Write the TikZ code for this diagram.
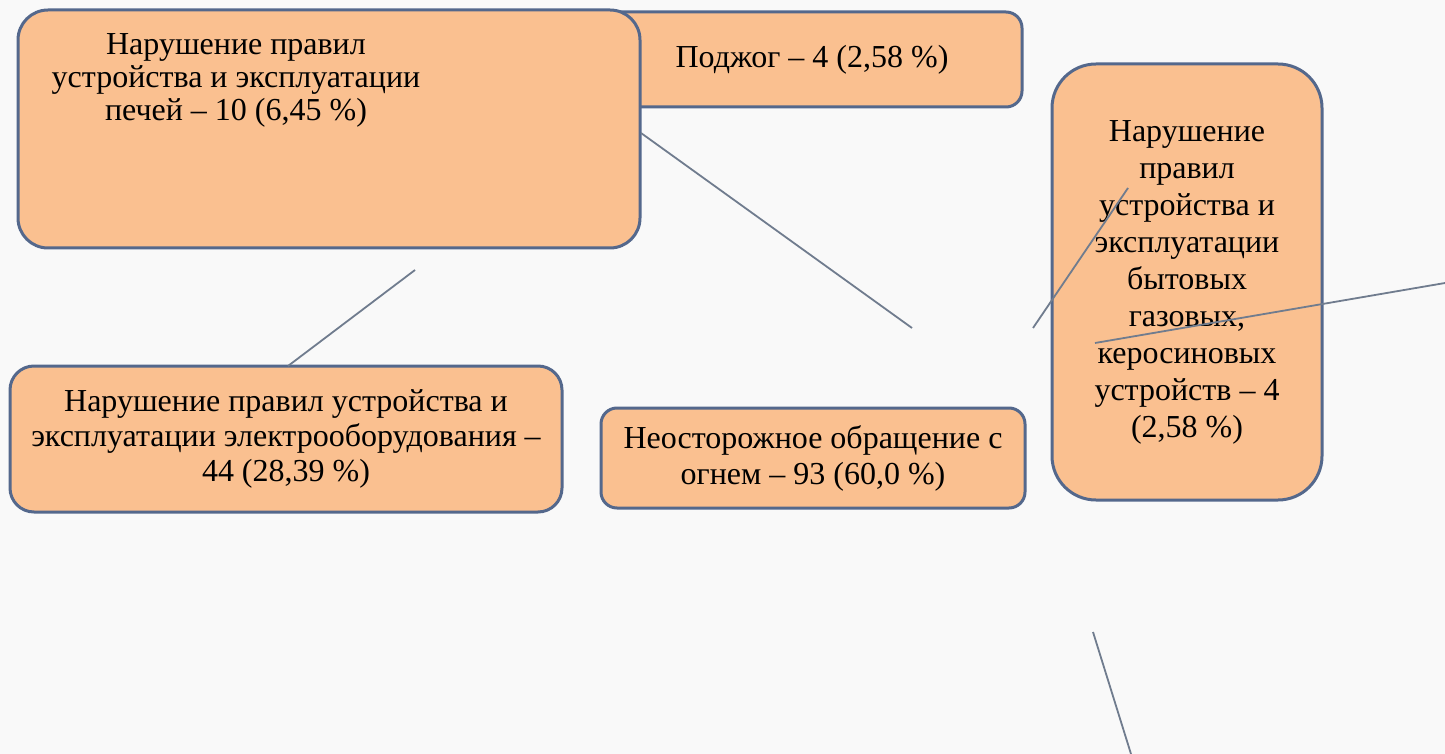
\documentclass[tikz,border=0pt]{standalone}
\usepackage{fontspec}
\setmainfont{Liberation Serif}
\usepackage{tikz}
\definecolor{peach}{RGB}{250,192,144}
\definecolor{slateblue}{RGB}{84,104,140}
\definecolor{linegray}{RGB}{112,124,142}
\definecolor{paper}{RGB}{249,249,249}

\begin{document}
\begin{tikzpicture}[x=0.5pt,y=-0.5pt,
    cause/.style={draw=slateblue,line width=1.5pt,fill=peach,rounded corners=#1,
        inner sep=0pt,font=\fontsize{16}{18}\selectfont,align=center},
    cause/.default=12pt,
    words/.style={inner sep=0pt,font=\fontsize{16}{16.5}\selectfont,align=center},
    link/.style={draw=linegray,line width=0.9pt}
]
\useasboundingbox (0,0) rectangle (1445,754);
\fill[paper] (0,0) rectangle (1445,754);

% boxes
\node[cause=8pt, minimum width=216pt, minimum height=47.5pt] (arson) at (806,59.5)
    {\hspace*{6pt}Поджог – 4 (2,58 \%)};
\node[cause=15pt, minimum width=311pt, minimum height=119pt] (stoves) at (329,129) {};
\node[words] (stovestext) at (236,80)
    {Нарушение правил\\ устройства и эксплуатации\\ печей – 10 (6,45 \%)};
\node[cause=22pt, minimum width=135pt, minimum height=218pt,
      font=\fontsize{16}{18.5}\selectfont] (gas) at (1187,282)
    {Нарушение\\ правил\\ устройства и\\ эксплуатации\\ бытовых\\ газовых,\\ керосиновых\\ устройств – 4\\ (2,58 \%)};
\node[cause=12pt, minimum width=276pt, minimum height=73pt,
      font=\fontsize{16}{17.5}\selectfont] (electric) at (286,439)
    {Нарушение правил устройства и\\ эксплуатации электрооборудования –\\ 44 (28,39 \%)};
\node[cause=8pt, minimum width=212pt, minimum height=50pt] (fire) at (813,458)
    {Неосторожное обращение с\\ огнем – 93 (60,0 \%)};

% loose lines
\coordinate (s1) at (415,270);
\coordinate (e1) at (288,366);
\coordinate (s2) at (641,133);
\coordinate (e2) at (912,328);
\coordinate (s3) at (1128,188);
\coordinate (e3) at (1033,328);
\coordinate (s4) at (1445,283);
\coordinate (e4) at (1095,343);
\coordinate (s5) at (1093,632);
\coordinate (e5) at (1131,754);
\foreach \a/\b in {s1/e1,s2/e2,s3/e3,s4/e4,s5/e5}
    \draw[link] (\a) -- (\b);
\end{tikzpicture}
\end{document}
